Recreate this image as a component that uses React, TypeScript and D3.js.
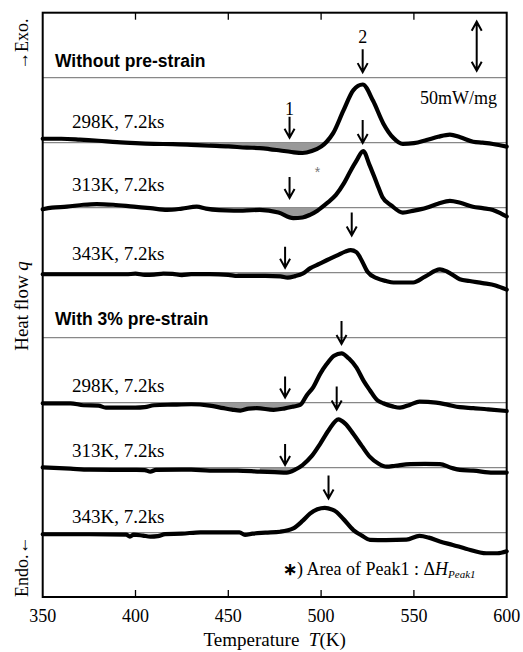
import React from "react";
import * as d3 from "d3";

// DSC curves, heat flow q (mW/mg) relative to each curve's own baseline
const without298: [number, number][] = [
  [350, 4], [360, 4], [370, 3.2], [380, 2], [390, 0.5], [400, -0.5], [410, -1.2], [420, -1.5],
  [430, -2.2], [440, -3], [450, -3.8], [460, -5], [467, -5.5], [472, -6.5], [478, -8], [484, -9.5],
  [490, -10.5], [495, -8.5], [500, -4], [503, 1], [506.5, 9.7], [512, 32.7], [517.4, 53.7],
  [522.4, 59.4], [528, 42.7], [533.5, 19.7], [539, 4.7], [544, -1.3], [550, -0.5], [556.8, 2.7],
  [563, 6], [569.4, 8.3], [575, 5.5], [581.9, 1], [587, 0], [592.6, -1.3], [600, -4],
];
const without313: [number, number][] = [
  [350, -1.6], [355, 0], [363, 1], [372, 3], [379, 3.7], [388, 3], [399, 1], [408, -0.5],
  [417, -2.3], [425, -1], [433, 1], [438, -1], [445, -2.5], [453, -3], [467, -2.3], [477, -5],
  [485, -10.6], [490, -10], [494, -7.3], [498, -3], [503, 4.4], [508, 13], [512, 24], [516, 38],
  [519, 47.7], [522.7, 57.7], [526, 44], [530, 25], [533, 11], [538, 2], [544, -5], [550, -3],
  [556.8, 0], [563, 4], [569.4, 7], [575, 5], [581.8, 1], [587, -0.5], [592.6, -2.3], [597, -6],
  [600, -9],
];
const without343: [number, number][] = [
  [350, -1.6], [380, -1.6], [395, -1.6], [400, -1], [405, -2.2], [410, -2], [415, -1], [420, -1.3],
  [425, -2.4], [430, -1.5], [440, -1.5], [450, -2.2], [455, -3.3], [470, -3.3], [478, -3.8],
  [482, -5], [486, -3.5], [490, -1], [494, 4.4], [499, 9], [503, 12.7], [509, 18], [513, 21.5],
  [516, 23], [519, 21], [522, 12], [525, 1], [530, -5.6], [535, -8.5], [539, -10], [549.6, -10],
  [556, -4], [564, 3.4], [568, 1], [574.7, -6.6], [580, -8.5], [587, -10.6], [594, -13],
  [600, -17.3],
];
const pre298: [number, number][] = [
  [350, -0.6], [365, -0.6], [372, -2.6], [380, -3], [384, -5], [400, -5], [405, -4.5], [410, -2.6],
  [420, -2], [430, -1.6], [440, -3], [447.5, -5.6], [452, -7], [456.5, -8], [461, -6], [465.4, -5.6],
  [474.4, -7.3], [480, -6], [485, -4], [488.7, -2.3], [492.3, 7.7], [495.8, 16], [499.5, 29.4],
  [503, 39.4], [507, 48], [511, 50.4], [515, 45], [519, 36], [523, 22], [526.3, 12.7], [530, 3],
  [533.5, -0.6], [539, -4], [542.5, -5], [548, -2], [553, 1], [562, 0], [568, -2], [574.7, -4.6],
  [582, -5.5], [590, -6.8], [600, -8.5],
];
const pre313: [number, number][] = [
  [350, 0.4], [365, -1], [375, -2], [400, -2.3], [405, -2.5], [408, -4], [411, -2.3], [430, -2],
  [440, -3], [455, -3], [467, -4], [475, -4.5], [481.5, -5], [486, -2], [490, 2.7], [495, 12],
  [499.5, 24.4], [504, 38], [509.3, 49.4], [513, 45], [517.4, 34.4], [522, 22], [526.3, 11],
  [531, 4], [535.3, 1], [540, 2], [548, 3.7], [556, 4], [564, 3.7], [570, 0], [574.7, -2.3],
  [582, -3], [592.6, -5], [600, -5],
];
const pre343: [number, number][] = [
  [350, -1.6], [375, -1.6], [395, -2], [397, -4], [399, -2], [404, -3], [408, -4], [412, -3.5],
  [416, -1.5], [425, -1], [435, 0.4], [450, 0.4], [456, 0.4], [459, -2.3], [463, -1], [470, 0],
  [478, 1], [485, 4.4], [490, 12], [494, 19.4], [498, 24], [502, 25.4], [506, 23.5], [508.4, 21],
  [512, 14], [517.4, 2.7], [522, -3], [526.3, -7.3], [535, -7.5], [546, -7], [553, -3.3],
  [558, -5], [564, -9], [571, -12.5], [578, -16.3], [589, -21], [595, -21], [600, -19],
];

const curves = [without298, without313, without343, pre298, pre313, pre343];
const sampleLabels = ["298K, 7.2ks", "313K, 7.2ks", "343K, 7.2ks", "298K, 7.2ks", "313K, 7.2ks", "343K, 7.2ks"];
const sampleSlots = [1, 2, 3, 5, 6, 7];
const groupTitles = ["Without pre-strain", "With 3% pre-strain"];
const groupSlots = [0, 4];

// shaded region of Peak1 (K)
const fillFrom = [435, 455, 455, 430, 465, 0];
const fillTo = [505, 502, 490, 490, 490, 0];

// peak arrows: temperature and tip height above baseline (mW/mg)
const peak1T = [483, 483, 480.6, 480.6, 480.6, NaN];
const peak1Tip = [5, 10, 5, 5.4, 2.7, NaN];
const peak2T = [522.4, 522.4, 516.5, 511, 508.4, 504];
const peak2Tip = [72, 66, 38, 60, 59.4, 35];

const xTicks = [350, 400, 450, 500, 550, 600];
const scaleBarValue = 50;
const scaleBarTop = 123.5;
const slotStep = 66.33;

const SERIF = "'Liberation Serif', 'Times New Roman', serif";
const SANS = "'Liberation Sans', Arial, sans-serif";

export default function App() {
  const left = 42.7, right = 506.7, top = 12.7, bottom = 597;
  const x = d3.scaleLinear().domain([350, 600]).range([left, right]);
  const y = d3.scaleLinear().domain([-463.6, 132.65]).range([bottom, top]);
  const slotQ = (j: number) => (1 - j) * slotStep;

  const arrow = (cx: number, tip: number, len = 23, key?: string) => (
    <path
      key={key}
      d={`M${cx},${tip - len}L${cx},${tip}M${cx - 5},${tip - 9}L${cx},${tip}L${cx + 5},${tip - 9}`}
      fill="none"
      stroke="#000"
      strokeWidth={2}
    />
  );

  const lineLabels = sampleLabels.map((t, i) => {
    const offs = [15, 16.5, 13, 11, 11, 10];
    return (
      <text key={"l" + i} x={72} y={y(slotQ(sampleSlots[i])) - offs[i]} fontFamily={SERIF} fontSize={19}>
        {t}
      </text>
    );
  });

  const sbTop = y(scaleBarTop);
  const sbBot = y(scaleBarTop - scaleBarValue);
  const sbX = 476.7;

  return (
    <svg width={523} height={652} style={{ position: "absolute", left: 0, top: 0 }}>
      <rect width={523} height={652} fill="#fff" />

      {/* thin baselines / separators */}
      {d3.range(8).map((j) => (
        <line key={"b" + j} x1={left} x2={right} y1={y(slotQ(j))} y2={y(slotQ(j))} stroke="#888" strokeWidth={1.3} />
      ))}

      {/* peak1 shaded areas */}
      {curves.map((c, i) => {
        if (!fillTo[i]) return null;
        const base = slotQ(sampleSlots[i]);
        const pts = c.filter((d) => d[0] >= fillFrom[i] && d[0] <= fillTo[i]);
        const area = d3
          .area<[number, number]>()
          .x((d) => x(d[0]))
          .y0(y(base))
          .y1((d) => y(base + Math.min(d[1], 0)))
          .curve(d3.curveMonotoneX);
        return <path key={"f" + i} d={area(pts) || ""} fill="#999" />;
      })}

      {/* curves */}
      {curves.map((c, i) => {
        const base = slotQ(sampleSlots[i]);
        const line = d3
          .line<[number, number]>()
          .x((d) => x(d[0]))
          .y((d) => y(base + d[1]))
          .curve(d3.curveMonotoneX);
        return (
          <path key={"c" + i} d={line(c) || ""} fill="none" stroke="#000" strokeWidth={4.2} strokeLinejoin="round" strokeLinecap="round" />
        );
      })}

      {/* peak arrows */}
      {curves.map((c, i) => {
        const base = slotQ(sampleSlots[i]);
        const out = [];
        if (!isNaN(peak1T[i])) out.push(arrow(x(peak1T[i]), y(base + peak1Tip[i]), 21, "a1" + i));
        out.push(arrow(x(peak2T[i]), y(base + peak2Tip[i]), 23, "a2" + i));
        return <g key={"ar" + i}>{out}</g>;
      })}
      <text x={x(peak1T[0])} y={115} textAnchor="middle" fontFamily={SERIF} fontSize={18}>1</text>
      <text x={x(peak2T[0])} y={43} textAnchor="middle" fontFamily={SERIF} fontSize={18}>2</text>
      <text x={317.5} y={177} textAnchor="middle" fontFamily={SANS} fontSize={14} fill="#777">*</text>

      {/* scale bar */}
      <path
        d={`M${sbX},${sbTop}L${sbX},${sbBot}M${sbX - 5},${sbTop + 9}L${sbX},${sbTop}L${sbX + 5},${sbTop + 9}M${sbX - 5},${sbBot - 9}L${sbX},${sbBot}L${sbX + 5},${sbBot - 9}`}
        fill="none"
        stroke="#000"
        strokeWidth={2}
      />
      <text x={497} y={104} textAnchor="end" fontFamily={SERIF} fontSize={18}>50mW/mg</text>

      {/* labels */}
      {groupTitles.map((t, k) => (
        <text key={"g" + k} x={55} y={y(slotQ(groupSlots[k])) - (k ? 12.5 : 11)} fontFamily={SANS} fontWeight="bold" fontSize={17.5}>
          {t}
        </text>
      ))}
      {lineLabels}

      {/* note */}
      <text x={283} y={575} fontFamily={SERIF} fontSize={18}>
        <tspan fontWeight="bold" fontSize={17}>∗</tspan>
        <tspan>) Area of Peak1 : Δ</tspan>
        <tspan fontStyle="italic">H</tspan>
        <tspan fontStyle="italic" fontSize={11} dy={3}>Peak1</tspan>
      </text>

      {/* frame */}
      <rect x={left} y={top} width={right - left} height={bottom - top} fill="none" stroke="#000" strokeWidth={2} />
      {xTicks.slice(1, -1).map((t) => (
        <g key={"t" + t}>
          <line x1={x(t)} x2={x(t)} y1={top} y2={top + 7} stroke="#000" strokeWidth={1.3} />
          <line x1={x(t)} x2={x(t)} y1={bottom} y2={bottom - 7} stroke="#000" strokeWidth={1.3} />
        </g>
      ))}
      {xTicks.map((t) => (
        <text key={"tl" + t} x={x(t)} y={621.7} textAnchor="middle" fontFamily={SERIF} fontSize={18}>
          {t}
        </text>
      ))}
      <text x={(left + right) / 2} y={646} textAnchor="middle" fontFamily={SERIF} fontSize={19}>
        Temperature{"\u2002"}
        <tspan fontStyle="italic">T</tspan>(K)
      </text>

      {/* y-axis labels */}
      <text transform="translate(28,70) rotate(-90)" fontFamily={SERIF} fontSize={18}>→Exo.</text>
      <text transform="translate(28,306) rotate(-90)" textAnchor="middle" fontFamily={SERIF} fontSize={19}>
        Heat flow <tspan fontStyle="italic">q</tspan>
      </text>
      <text transform="translate(28,597) rotate(-90)" fontFamily={SERIF} fontSize={18}>Endo.←</text>
    </svg>
  );
}
